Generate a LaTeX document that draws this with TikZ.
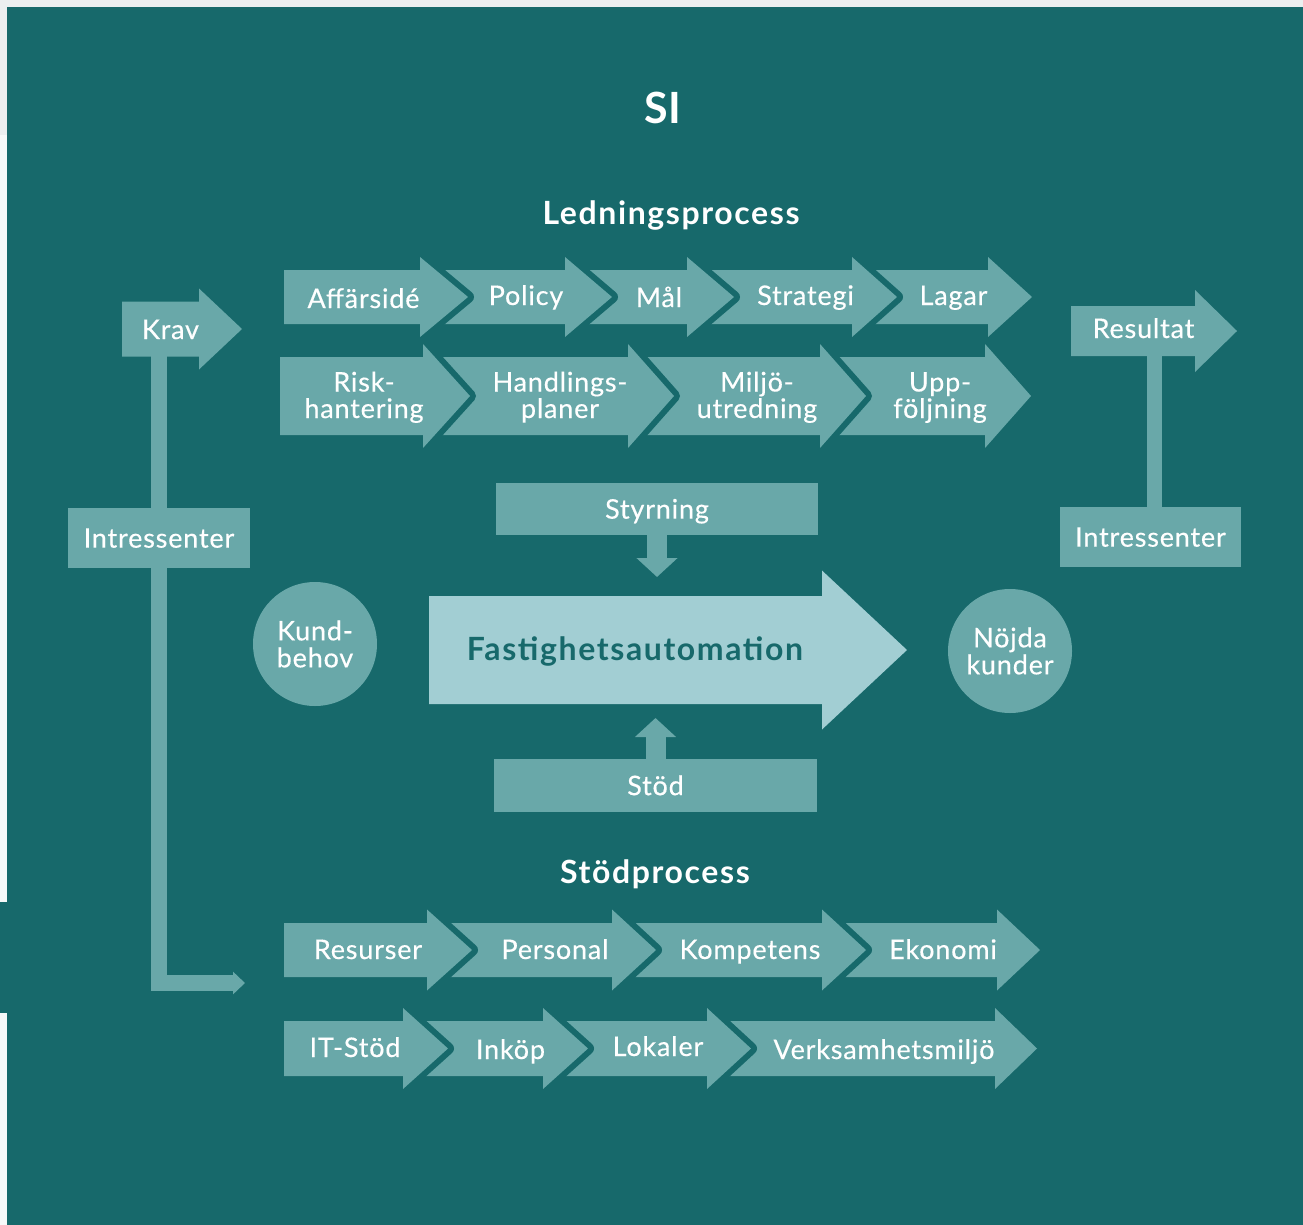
\documentclass[tikz,border=0pt]{standalone}
\usepackage{fontspec}
\setmainfont{Lato}
\newfontfamily\lblface{Lato}[LetterSpace=3, FakeBold=0.4]
\newfontfamily\headface{Lato}[LetterSpace=5]
\usetikzlibrary{arrows.meta}

\definecolor{bg}{HTML}{17696B}
\definecolor{arr}{HTML}{69A8A9}
\definecolor{big}{HTML}{A2CED3}
\definecolor{edge}{HTML}{ECEFF0}
\definecolor{paper}{HTML}{F7F9F9}

\newcommand\labelfnt{\lblface\fontsize{27}{26.5}\selectfont}
\newcommand\headfnt{\headface\fontsize{32}{34}\selectfont\bfseries}

% arrow outline: [style]{left x}{head start x}{centre y}{half body}{half head}{head length}
\newcommand\chev[7][chevron]{%
  \path[#1] (#2,#4-#5) -- (#3,#4-#5) -- (#3,#4-#6) -- (#3+#7,#4)
    -- (#3,#4+#6) -- (#3,#4+#5) -- (#2,#4+#5) -- cycle;}

\begin{document}
\begin{tikzpicture}[x=1pt,y=-1pt,
  chevron/.style={fill=arr, preaction={draw=bg, line width=12pt, line join=round}},
  plainarrow/.style={fill=arr},
  bigarrow/.style={fill=big},
  lbl/.style={text=white, font=\labelfnt, align=center, inner sep=0pt, anchor=base},
  boxnode/.style={fill=arr, text=white, font=\labelfnt, inner sep=0pt,
    text height=19.3pt, text depth=0pt},
  roundnode/.style={circle, fill=arr, text=white,
    font=\lblface\fontsize{27}{27}\selectfont,
    align=center, inner sep=0pt, minimum size=124pt},
  heading/.style={text=white, font=\headfnt, inner sep=0pt, anchor=base},
  bar/.style={draw=arr, line width=15.5pt},
  fatbar/.style={draw=arr, line width=20pt, -{Triangle[length=19pt,width=40pt]}}]

\useasboundingbox (0,0) rectangle (1303,1225);

% page background
\fill[edge] (0,0) rectangle (1303,1225);
\fill[paper] (0,135) rectangle (7,1225);
\fill[bg] (0,902) rectangle (7,1013);
\fill[bg] (7,7) rectangle (1303,1225);

% titles
\node[heading, font=\fontsize{43}{45}\selectfont\bfseries] (si) at (663,124) {SI};
\node[heading] (led) at (671,224) {Ledningsprocess};
\node[heading] (stodp) at (655,883) {Stödprocess};

% management process, first row (drawn right to left)
\chev{857}{988}{297}{27}{40}{44}
\chev{692}{852}{297}{27}{40}{45}
\chev{570}{687}{297}{27}{40}{47}
\chev{425}{565}{297}{27}{40}{47}
\chev{284}{420}{297}{27}{40}{48}
\node[lbl] (affarside) at (363.5,308) {Affärsidé};
\node[lbl] (policy) at (526,305) {Policy};
\node[lbl] (mal) at (659,307) {Mål};
\node[lbl] (strategi) at (805.5,305) {Strategi};
\node[lbl] (lagar) at (953.5,305) {Lagar};

% management process, second row
\chev{825}{985}{396}{39}{52}{46}
\chev{633}{820}{396}{39}{52}{46}
\chev{428}{628}{396}{39}{52}{46}
\chev{280}{423}{396}{39}{52}{47}
\node[lbl] (risk) at (364,418) {Risk-\\hantering};
\node[lbl] (handl) at (560,418) {Handlings-\\planer};
\node[lbl] (miljo) at (757,418) {Miljö-\\utredning};
\node[lbl] (uppf) at (940,418) {Upp-\\följning};

% support process, first row
\chev{827}{997}{950}{27}{40.5}{43}
\chev{617}{822}{950}{27}{40.5}{44}
\chev{432}{612}{950}{27}{40.5}{44}
\chev{284}{427}{950}{27}{40.5}{45}
\node[lbl] (resurser) at (368,959) {Resurser};
\node[lbl] (personal) at (555,959) {Personal};
\node[lbl] (kompetens) at (750,959) {Kompetens};
\node[lbl] (ekonomi) at (943,959) {Ekonomi};

% support process, second row
\chev{712}{995}{1048.5}{27.5}{40.5}{42}
\chev{548}{707}{1048.5}{27.5}{40.5}{44}
\chev{408}{543}{1048.5}{27.5}{40.5}{45}
\chev{284}{403}{1048.5}{27.5}{40.5}{45}
\node[lbl] (itstod) at (355,1057) {IT-Stöd};
\node[lbl] (inkop) at (510.5,1059) {Inköp};
\node[lbl] (lokaler) at (658,1056) {Lokaler};
\node[lbl] (verks) at (884,1059) {Verksamhetsmiljö};

% stakeholder boxes and the bars joining them
\node[boxnode, minimum width=182pt, minimum height=60pt] (intL) at (159,538) {Intressenter};
\node[boxnode, minimum width=181pt, minimum height=60pt] (intR) at (1150.5,537) {Intressenter};
\coordinate (kravB) at (159,355);
\coordinate (resB) at (1154.5,355);
\coordinate (supEnd) at (245,983);
\draw[bar] (kravB) -- (intL.north);
\draw[bar, -{Triangle[length=12pt,width=22pt]}] (intL.south) |- (supEnd);
\draw[bar] (resB) -- (resB |- intR.north);

% requirement and result arrows
\chev[plainarrow]{122}{199}{329}{27.5}{40.5}{43}
\chev[plainarrow]{1071}{1195}{331}{25}{41}{42}
\node[lbl] (krav) at (170.5,339) {Krav};
\node[lbl] (resultat) at (1143.5,338) {Resultat};

% core process
\chev[bigarrow]{429}{822}{650}{54}{79.5}{85}
\node[heading, text=bg] (fast) at (635,660) {Fastighetsautomation};

\node[boxnode, minimum width=322pt, minimum height=52pt] (styr) at (657,509) {Styrning};
\node[boxnode, minimum width=323pt, minimum height=53pt] (stod) at (655.5,785.5) {Stöd};
\coordinate (styrEnd) at (657,577);
\coordinate (stodEnd) at (655.5,718);
\draw[fatbar] (styr.south) -- (styrEnd);
\draw[fatbar] (stod.north) -- (stodEnd);

% customer need and satisfied customers
\node[roundnode] (kund) at (315,644) {Kund-\\behov};
\node[roundnode] (nojda) at (1010,651) {Nöjda\\kunder};

\end{tikzpicture}
\end{document}
